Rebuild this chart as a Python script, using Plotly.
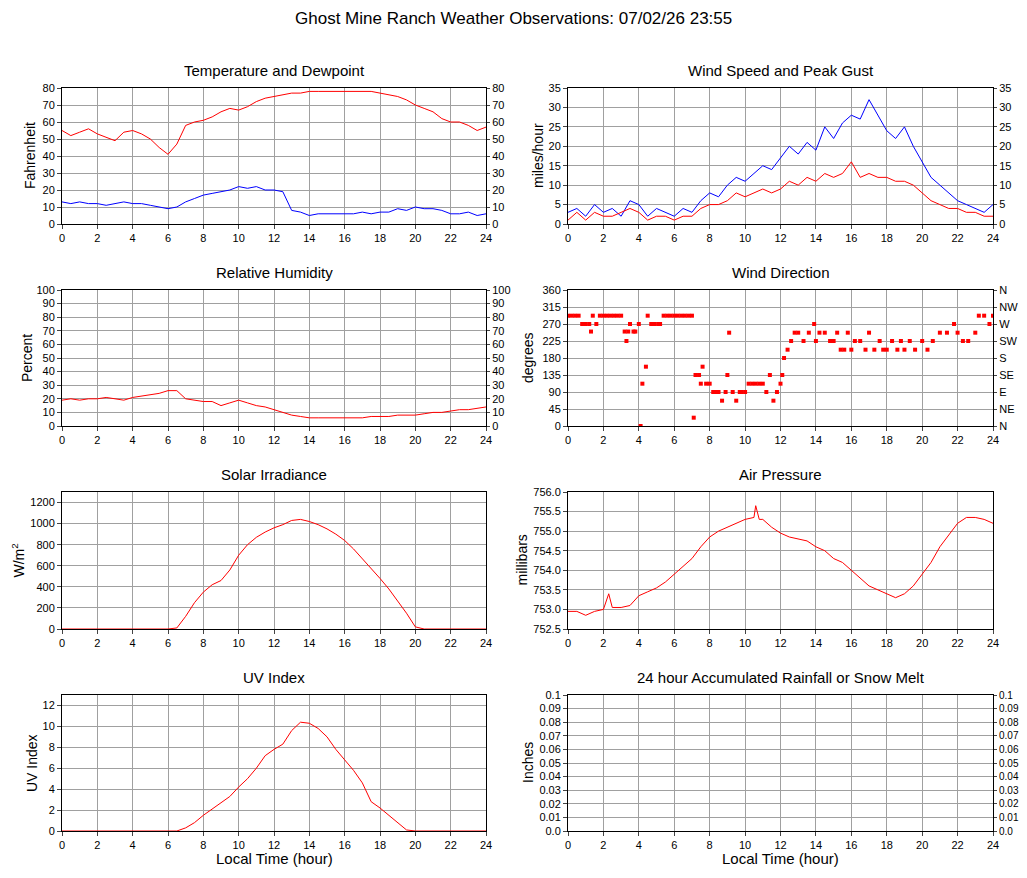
from plotly import graph_objs as go
from plotly.subplots import make_subplots

# page body adds an 8px margin, so the figure is laid out 16px smaller and shifted
W, H = 1027, 878
OFF = 8
FW, FH = W - 2 * OFF, H - 2 * OFF

hours = [i * 0.5 for i in range(49)]

temperature = [55, 52, 54, 56, 53, 51, 49, 54, 55, 53, 50, 45, 41, 47, 58, 60, 61, 63, 66, 68, 67, 69, 72, 74, 75,
               76, 77, 77, 78, 78, 78, 78, 78, 78, 78, 78, 77, 76, 75, 73, 70, 68, 66, 62, 60, 60, 58, 55, 57]
dewpoint = [13, 12, 13, 12, 12, 11, 12, 13, 12, 12, 11, 10, 9, 10, 13, 15, 17, 18, 19, 20, 22, 21, 22, 20, 20,
            19, 8, 7, 5, 6, 6, 6, 6, 6, 7, 6, 7, 7, 9, 8, 10, 9, 9, 8, 6, 6, 7, 5, 6]

gust = [3, 4, 2, 5, 3, 4, 2, 6, 5, 2, 4, 3, 2, 4, 3, 6, 8, 7, 10, 12, 11, 13, 15, 14, 17,
        20, 18, 21, 19, 25, 22, 26, 28, 27, 32, 28, 24, 22, 25, 20, 16, 12, 10, 8, 6, 5, 4, 3, 5]
wind = [1, 3, 1, 3, 2, 2, 3, 4, 3, 1, 2, 2, 1, 2, 2, 4, 5, 5, 6, 8, 7, 8, 9, 8, 9,
        11, 10, 12, 11, 13, 12, 13, 16, 12, 13, 12, 12, 11, 11, 10, 8, 6, 5, 4, 4, 3, 3, 2, 2]

humidity = [19, 20, 19, 20, 20, 21, 20, 19, 21, 22, 23, 24, 26, 26, 20, 19, 18, 18, 15, 17, 19, 17, 15, 14, 12,
            10, 8, 7, 6, 6, 6, 6, 6, 6, 6, 7, 7, 7, 8, 8, 8, 9, 10, 10, 11, 12, 12, 13, 14]

dir_hours = [0, 0.2, 0.4, 0.6, 0.8, 1.0, 1.2, 1.3, 1.4, 1.6, 1.8, 2.0, 2.2, 2.4, 2.6, 2.8, 3.0, 3.2, 3.3, 3.4, 3.5,
             3.7, 3.8, 4.0, 4.1, 4.2, 4.4, 4.5, 4.7, 4.9, 5.1, 5.2, 5.4, 5.6, 5.8, 6.0, 6.2, 6.4, 6.6, 6.8, 7.0,
             7.1, 7.2, 7.4, 7.5, 7.6, 7.8, 8.0, 8.2, 8.4, 8.5, 8.7, 8.9, 9.0, 9.1, 9.3, 9.5, 9.7, 9.8, 10.0, 10.2,
             10.4, 10.6, 10.8, 11.0, 11.2, 11.4, 11.6, 11.8, 12.0, 12.1, 12.2, 12.4, 12.6, 12.8, 13.0, 13.3, 13.6,
             13.9, 14.0, 14.2, 14.5, 14.8, 15.0, 15.2, 15.4, 15.6, 15.8, 16.0, 16.2, 16.5, 16.8, 17.0, 17.3, 17.6,
             17.8, 18.0, 18.3, 18.6, 18.8, 19.0, 19.3, 19.6, 20.0, 20.3, 20.6, 21.0, 21.4, 21.8, 22.0, 22.3, 22.6,
             23.0, 23.2, 23.5, 23.8, 24.0]
direction = [292, 292, 292, 292, 270, 270, 270, 250, 292, 270, 292, 292, 292, 292, 292, 292, 292, 250, 225, 250,
             270, 250, 250, 270, 0, 112, 157, 292, 270, 270, 270, 270, 292, 292, 292, 292, 292, 292, 292, 292, 292,
             22, 135, 135, 112, 157, 112, 112, 90, 90, 90, 67, 90, 135, 247, 90, 67, 90, 90, 90, 112,
             112, 112, 112, 112, 90, 135, 67, 90, 112, 135, 180, 202, 225, 247, 247, 225, 247,
             270, 225, 247, 247, 225, 225, 247, 202, 202, 247, 202, 225, 225, 202, 247, 202, 225,
             202, 202, 225, 202, 225, 202, 225, 202, 225, 202, 225, 247, 247, 270, 247, 225, 225,
             247, 292, 292, 270, 292]

solar = [0, 0, 0, 0, 0, 0, 0, 0, 0, 0, 0, 0, 0, 10, 120, 250, 350, 420, 460, 560, 700, 800, 870, 920, 960,
         990, 1030, 1040, 1020, 990, 950, 900, 840, 760, 670, 580, 480, 380, 270, 150, 20, 0, 0, 0, 0, 0, 0, 0, 0]

pressure_hours = [0, 0.5, 1, 1.5, 2, 2.3, 2.5, 3, 3.5, 4, 4.5, 5, 5.5, 6, 6.5, 7, 7.5, 8, 8.5, 9, 9.5, 10,
                  10.5, 10.6, 10.8, 11, 11.5, 12, 12.5, 13, 13.5, 14, 14.5, 15, 15.5, 16, 16.5, 17, 17.5, 18,
                  18.5, 19, 19.5, 20, 20.5, 21, 21.5, 22, 22.5, 23, 23.5, 24]
pressure = [752.95, 752.95, 752.85, 752.95, 753.0, 753.4, 753.05, 753.05, 753.1, 753.35, 753.45, 753.55, 753.7,
            753.9, 754.1, 754.3, 754.6, 754.85, 755.0, 755.1, 755.2, 755.3, 755.35, 755.65, 755.3, 755.3, 755.1,
            754.95, 754.85, 754.8, 754.75, 754.6, 754.5, 754.3, 754.2, 754.0, 753.8, 753.6, 753.5, 753.4, 753.3,
            753.4, 753.6, 753.9, 754.2, 754.6, 754.9, 755.2, 755.35, 755.35, 755.3, 755.2]

uv = [0, 0, 0, 0, 0, 0, 0, 0, 0, 0, 0, 0, 0, 0, 0.3, 0.8, 1.5, 2.1, 2.7, 3.3, 4.2, 5.0, 6.0, 7.2, 7.8,
      8.3, 9.6, 10.4, 10.3, 9.8, 9.0, 7.8, 6.8, 5.8, 4.6, 2.8, 2.2, 1.5, 0.8, 0.1, 0, 0, 0, 0, 0, 0, 0, 0, 0]

x_ticks = list(range(0, 25, 2))
dir_ticks = [0, 45, 90, 135, 180, 225, 270, 315, 360]
dir_labels = ["N", "NE", "E", "SE", "S", "SW", "W", "NW", "N"]
rain_ticks = [0, 0.01, 0.02, 0.03, 0.04, 0.05, 0.06, 0.07, 0.08, 0.09, 0.1]
rain_labels = ["0.0", "0.01", "0.02", "0.03", "0.04", "0.05", "0.06", "0.07", "0.08", "0.09", "0.1"]

cols = [(62, 486), (568, 993)]
rows = [(88, 224), (290, 426), (492, 629), (695, 831)]

# title, y label, label offset, y range, tick step, right-hand labels
panels = [
    ("Temperature and Dewpoint", "Fahrenheit", 32, [0, 80], 10, True),
    ("Wind Speed and Peak Gust", "miles/hour", 30, [0, 35], 5, True),
    ("Relative Humidity", "Percent", 35, [0, 100], 10, True),
    ("Wind Direction", "degrees", 40, [0, 360], 45, True),
    ("Solar Irradiance", "W/m<sup>2</sup>", 44, [0, 1300], 200, False),
    ("Air Pressure", "millibars", 47, [752.5, 756.0], 0.5, False),
    ("UV Index", "UV Index", 30, [0, 13], 2, False),
    ("24 hour Accumulated Rainfall or Snow Melt", "Inches", 40, [0, 0.1], None, True),
]


def px(x):
    return (x - OFF) / FW


def py(y):
    return 1 - (y - OFF) / FH


fig = make_subplots(rows=4, cols=2, specs=[[{"secondary_y": True}] * 2 for _ in range(4)])

axis_style = dict(showgrid=True, gridcolor="#a0a0a0", showline=True, linecolor="black", mirror=True,
                  ticks="outside", ticklen=4, zeroline=False, tickfont=dict(size=11), automargin=False)

annotations = [dict(text="Ghost Mine Ranch Weather Observations: 07/02/26 23:55", x=px(W / 2), y=py(18),
                    xref="paper", yref="paper", showarrow=False, xanchor="center", yanchor="middle",
                    font=dict(size=17))]


def add_line(x, y, r, c, color, sec=False):
    fig.add_trace(go.Scatter(x=x, y=y, mode="lines", line=dict(color=color, width=1), hoverinfo="skip"),
                  row=r, col=c, secondary_y=sec)


for i, (title, ylabel, off, yr, dt, right) in enumerate(panels):
    r0, c0 = divmod(i, 2)
    r, c = r0 + 1, c0 + 1
    x0, x1 = cols[c0]
    y0, y1 = rows[r0]
    fig.update_xaxes(domain=[px(x0), px(x1)], range=[0, 24], tickvals=x_ticks, row=r, col=c, **axis_style)
    if dt is None:
        ykw = dict(range=yr, tickvals=rain_ticks, ticktext=rain_labels)
    else:
        ykw = dict(range=yr, dtick=dt)
    if i == 5:
        ykw["tickformat"] = ".1f"
    fig.update_yaxes(domain=[py(y1), py(y0)], row=r, col=c, secondary_y=False, **ykw, **axis_style)
    if right:
        rkw = dict(ykw)
        if i == 3:
            rkw = dict(range=yr, tickvals=dir_ticks, ticktext=dir_labels)
        fsize = 10 if dt is None else 11
        fig.update_yaxes(row=r, col=c, secondary_y=True, showgrid=False, ticks="outside", ticklen=3,
                         zeroline=False, tickfont=dict(size=fsize), automargin=False, **rkw)
        add_line([0, 0], [yr[0], yr[0]], r, c, "rgba(0,0,0,0)", sec=True)
    else:
        fig.update_yaxes(row=r, col=c, secondary_y=True, visible=False)
    annotations.append(dict(text=title, x=px((x0 + x1) / 2), y=py(y0 - 18), xref="paper", yref="paper",
                            xanchor="center", yanchor="middle", showarrow=False, font=dict(size=15)))
    annotations.append(dict(text=ylabel, x=px(x0 - off), y=py((y0 + y1) / 2), xref="paper", yref="paper",
                            xanchor="center", yanchor="middle", showarrow=False, textangle=-90,
                            font=dict(size=14)))

for c0 in (0, 1):
    annotations.append(dict(text="Local Time (hour)", x=px((cols[c0][0] + cols[c0][1]) / 2), y=py(858),
                            xref="paper", yref="paper", xanchor="center", yanchor="middle", showarrow=False,
                            font=dict(size=15)))

add_line(hours, temperature, 1, 1, "red")
add_line(hours, dewpoint, 1, 1, "blue")
add_line(hours, gust, 1, 2, "blue")
add_line(hours, wind, 1, 2, "red")
add_line(hours, humidity, 2, 1, "red")
fig.add_trace(go.Scatter(x=dir_hours, y=direction, mode="markers", hoverinfo="skip",
                         marker=dict(color="red", symbol="square", size=4)), row=2, col=2)
add_line(hours, solar, 3, 1, "red")
add_line(pressure_hours, pressure, 3, 2, "red")
add_line(hours, uv, 4, 1, "red")
# empty rainfall panel: an invisible point keeps its axes drawn
add_line([0, 0], [0, 0], 4, 2, "rgba(0,0,0,0)")

fig.update_layout(width=FW, height=FH, margin=dict(l=0, r=0, t=0, b=0), showlegend=False,
                  plot_bgcolor="white", paper_bgcolor="white", annotations=annotations,
                  font=dict(family="Liberation Sans, Arial", size=11, color="black"))

fig.write_html("out.html")
